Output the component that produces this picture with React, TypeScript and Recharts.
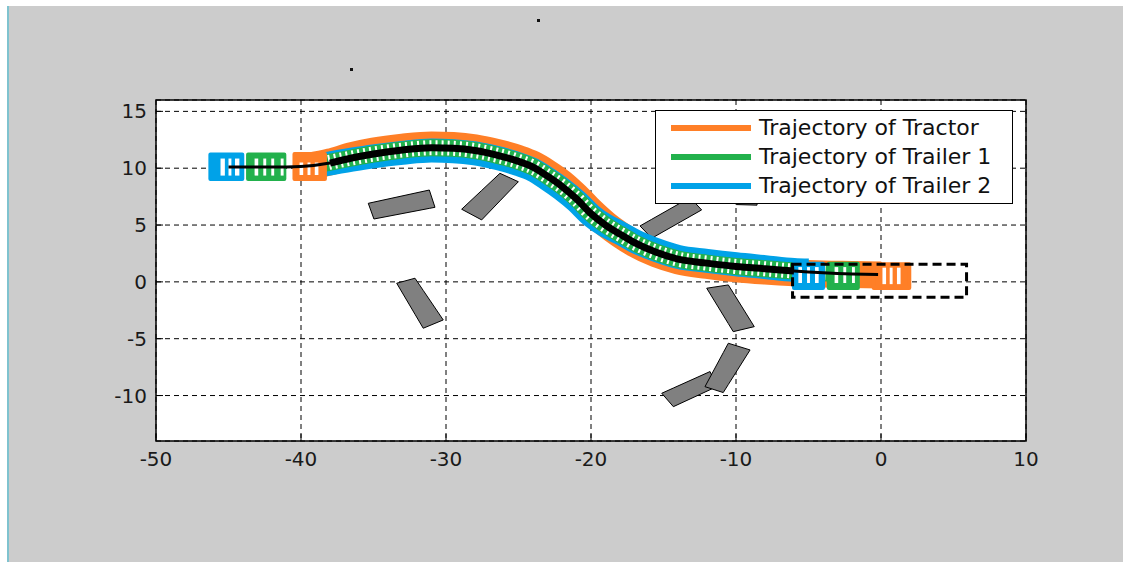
import {
  Area,
  CartesianGrid,
  ComposedChart,
  Legend,
  Line,
  ReferenceArea,
  XAxis,
  YAxis,
} from "recharts";

type Pt = [number, number];
type Box = [number, number, number, number];

const xTicks = [-50, -40, -30, -20, -10, 0, 10];
const yTicks = [-10, -5, 0, 5, 10, 15];

const legendNames = ["Trajectory of Tractor", "Trajectory of Trailer 1", "Trajectory of Trailer 2"];

// reference path of the rig (black)
const centerPath: Pt[] = [
  [-45, 10.1], [-42, 10.1], [-40, 10.15], [-38, 10.45], [-36.5, 10.9], [-35, 11.25],
  [-33, 11.6], [-31, 11.8], [-29.5, 11.75], [-28, 11.55], [-26.5, 11.15], [-25, 10.6],
  [-24, 10.1], [-23, 9.3], [-22, 8.4], [-21, 7.3], [-20, 6.0], [-19, 5.0], [-18, 4.2],
  [-17, 3.45], [-15.5, 2.6], [-14, 2.0], [-12, 1.65], [-10, 1.35], [-8, 1.15], [-6, 0.95],
  [-4, 0.8], [-2, 0.7], [-0.2, 0.65],
];

const tractorPath: Pt[] = [
  [-39.5, 10.15], [-38, 10.55], [-36.5, 11.1], [-35, 11.5], [-33, 11.85], [-31, 12.05],
  [-29.5, 12.0], [-28, 11.8], [-26.5, 11.4], [-25, 10.85], [-24, 10.35], [-23, 9.6],
  [-22, 8.7], [-21, 7.55], [-20, 6.25], [-19, 5.1], [-18, 4.15], [-17, 3.35], [-15.5, 2.45],
  [-14, 1.85], [-12, 1.45], [-10, 1.15], [-8, 0.95], [-6, 0.8], [-4, 0.7], [-2, 0.65], [0, 0.6],
];

const trailer1Path: Pt[] = [
  [-38.5, 10.4], [-36.5, 10.9], [-35, 11.25], [-33, 11.6],
  [-31, 11.8], [-29.5, 11.75], [-28, 11.55], [-26.5, 11.15], [-25, 10.6], [-24, 10.1],
  [-23, 9.3], [-22, 8.4], [-21, 7.3], [-20, 6.0], [-19, 5.0], [-18, 4.2], [-17, 3.45],
  [-15.5, 2.6], [-14, 2.0], [-12, 1.65], [-10, 1.35], [-8, 1.15], [-6, 0.95], [-4, 0.8], [-2.5, 0.75],
];

const trailer2Path: Pt[] = [
  [-38.5, 10.3], [-36.5, 10.75], [-35, 11.05],
  [-33, 11.35], [-31, 11.55], [-29.5, 11.5], [-28, 11.3], [-26.5, 10.9], [-25, 10.35],
  [-24, 9.85], [-23, 9.05], [-22, 8.15], [-21, 7.1], [-20, 5.85], [-19, 4.95], [-18, 4.3],
  [-17, 3.6], [-15.5, 2.8], [-14, 2.2], [-12, 1.85], [-10, 1.55], [-8, 1.3], [-6, 1.05], [-5, 1.0],
];

// obstacle corners
const obstacles: Pt[][] = [
  [[-35.36, 6.91], [-31.15, 8.08], [-30.76, 6.56], [-34.97, 5.53]],
  [[-28.92, 6.39], [-26.28, 9.55], [-25.01, 8.81], [-27.54, 5.45]],
  [[-33.4, -0.12], [-32.14, 0.32], [-30.19, -3.35], [-31.57, -4.08]],
  [[-16.62, 4.92], [-15.81, 3.84], [-12.37, 6.33], [-13.17, 7.42]],
  [[-10.0, 6.8], [-8.55, 6.75], [-8.5, 8.5], [-9.95, 8.55]],
  [[-12.02, -0.56], [-10.53, -0.27], [-8.74, -3.94], [-10.19, -4.38]],
  [[-15.12, -9.8], [-11.79, -7.89], [-11.33, -9.22], [-14.32, -10.98]],
  [[-10.53, -5.4], [-9.03, -5.99], [-10.88, -9.74], [-12.14, -9.22]],
];

// vehicle footprints at start and goal: trailer 2, trailer 1, tractor
const startBoxes: Box[] = [
  [-46.25, -44.05, 9.05, 11.2],
  [-43.65, -41.15, 9.05, 11.2],
  [-40.45, -38.35, 9.05, 11.25],
];
const endBoxes: Box[] = [
  [-6.0, -4.0, -0.55, 1.6],
  [-3.6, -1.6, -0.55, 1.6],
  [-0.5, 1.95, -0.55, 1.55],
];
const whiteBars: Box[] = [
  [-45.55, -45.25, 9.35, 10.85], [-45.0, -44.8, 9.35, 10.85], [-44.55, -44.25, 9.35, 10.85],
  [-43.2, -42.95, 9.35, 10.85], [-42.6, -42.4, 9.35, 10.85], [-42.05, -41.85, 9.35, 10.85], [-41.4, -41.2, 9.35, 10.85],
  [-40.1, -39.85, 9.4, 10.5], [-39.55, -39.35, 9.4, 10.5], [-39.05, -38.8, 9.4, 10.5],
  [-5.7, -5.45, -0.1, 1.3], [-5.1, -4.9, -0.1, 1.3], [-4.55, -4.3, -0.1, 1.3],
  [-3.2, -2.95, -0.1, 1.3], [-2.6, -2.4, -0.1, 1.3], [-2.0, -1.8, -0.1, 1.3],
  [0.1, 0.35, -0.2, 1.25], [0.6, 0.8, -0.2, 1.25], [1.1, 1.35, -0.2, 1.25],
];
const goalRegion: Box = [-6.1, 5.9, -1.35, 1.55];

const seriesColors = ["#ff7f27", "#22b14c", "#00a2e8"];

const rows = (pts: Pt[]) => pts.map(([x, y]) => ({ x, y }));

// turn a convex polygon into a range band (lower/upper y at each corner x)
function bandRows(corners: Pt[]) {
  const xs = corners.map((c) => c[0]).sort((a, b) => a - b);
  return xs.map((x) => {
    const ys: number[] = [];
    corners.forEach((p, i) => {
      const q = corners[(i + 1) % corners.length];
      const lo = Math.min(p[0], q[0]);
      const hi = Math.max(p[0], q[0]);
      if (x < lo - 1e-9 || x > hi + 1e-9) return;
      if (hi - lo < 1e-9) {
        ys.push(p[1], q[1]);
        return;
      }
      const t = (x - p[0]) / (q[0] - p[0]);
      ys.push(p[1] + t * (q[1] - p[1]));
    });
    return { x, band: [Math.min(...ys), Math.max(...ys)] };
  });
}

function TrajectoryLegend({ payload }: any) {
  const items = legendNames
    .map((n) => (payload ?? []).find((p: any) => p.value === n))
    .filter(Boolean);
  return (
    <div
      style={{
        width: 358,
        height: 94,
        boxSizing: "border-box",
        background: "#fff",
        border: "1px solid #000",
        padding: "2px 0 0 15px",
        fontFamily: "DejaVu Sans",
        fontSize: 22,
        color: "#111",
      }}
    >
      {items.map((item: any) => (
        <div key={item.value} style={{ display: "flex", alignItems: "center", height: 29 }}>
          <span style={{ width: 80, height: 6, background: item.color, marginRight: 8 }} />
          <span style={{ whiteSpace: "nowrap" }}>{item.value}</span>
        </div>
      ))}
    </div>
  );
}

const tickStyle = { fill: "#1a1a1a", fontSize: 20, fontFamily: "DejaVu Sans" };

export default function App() {
  const thickCenter = centerPath.filter((p) => p[0] >= -38 && p[0] <= -6);

  return (
    <div style={{ position: "relative", width: 1123, height: 562, background: "#fff", overflow: "hidden" }}>
      <style>{"body{margin:0}"}</style>
      <div
        style={{
          position: "absolute",
          left: 7,
          top: 6,
          right: 0,
          bottom: 0,
          background: "#cccccc",
          borderLeft: "2px solid #7fc3cf",
        }}
      />
      <div style={{ position: "absolute", left: 537, top: 19, width: 3, height: 3, background: "#111" }} />
      <div style={{ position: "absolute", left: 350, top: 68, width: 3, height: 3, background: "#111" }} />
      <div style={{ position: "absolute", left: 0, top: 0 }}>
        <ComposedChart width={1123} height={562} margin={{ top: 99, right: 96, bottom: 91, left: 116 }}>
          <CartesianGrid stroke="#000" strokeDasharray="5 4" fill="#fff" fillOpacity={1} />
          <XAxis
            dataKey="x"
            type="number"
            domain={[-50, 10]}
            ticks={xTicks}
            allowDataOverflow
            height={30}
            axisLine={false}
            tickSize={-7}
            tickMargin={18}
            tickLine={{ stroke: "#000" }}
            tick={tickStyle}
          />
          <YAxis
            type="number"
            domain={[-14, 16]}
            ticks={yTicks}
            allowDataOverflow
            width={40}
            axisLine={false}
            tickSize={-7}
            tickMargin={16}
            tickLine={{ stroke: "#000" }}
            tick={tickStyle}
          />
          <XAxis
            xAxisId="top"
            orientation="top"
            type="number"
            domain={[-50, 10]}
            ticks={xTicks}
            allowDataOverflow
            height={1}
            axisLine={false}
            tickSize={-7}
            tickLine={{ stroke: "#000" }}
            tick={false}
          />
          <YAxis
            yAxisId="right"
            orientation="right"
            type="number"
            domain={[-14, 16]}
            ticks={yTicks}
            allowDataOverflow
            width={1}
            axisLine={false}
            tickSize={-7}
            tickLine={{ stroke: "#000" }}
            tick={false}
          />

          {obstacles.map((o, i) => (
            <Area
              key={`obs-${i}`}
              data={bandRows(o)}
              dataKey="band"
              type="linear"
              fill="#808080"
              fillOpacity={1}
              stroke="#000"
              strokeWidth={1}
              dot={false}
              activeDot={false}
              legendType="none"
              zIndex={100}
              isAnimationActive={false}
            />
          ))}

          <Line
            data={rows(tractorPath)}
            dataKey="y"
            name={legendNames[0]}
            type="monotone"
            stroke={seriesColors[0]}
            strokeWidth={27}
            dot={false}
            activeDot={false}
            zIndex={200}
            isAnimationActive={false}
          />
          <Line
            data={rows(trailer2Path)}
            dataKey="y"
            name={legendNames[2]}
            type="monotone"
            stroke={seriesColors[2]}
            strokeWidth={24}
            dot={false}
            activeDot={false}
            zIndex={210}
            isAnimationActive={false}
          />
          <Line
            data={rows(trailer1Path)}
            dataKey="y"
            name={legendNames[1]}
            type="monotone"
            stroke={seriesColors[1]}
            strokeWidth={17}
            dot={false}
            activeDot={false}
            zIndex={220}
            isAnimationActive={false}
          />
          <Line
            data={rows(trailer1Path)}
            dataKey="y"
            type="monotone"
            stroke="#fff"
            strokeWidth={15}
            strokeDasharray="2 4"
            dot={false}
            activeDot={false}
            legendType="none"
            zIndex={230}
            isAnimationActive={false}
          />

          {[...startBoxes, ...endBoxes].map((b, i) => (
            <ReferenceArea
              key={`veh-${i}`}
              x1={b[0]}
              x2={b[1]}
              y1={b[2]}
              y2={b[3]}
              fill={seriesColors[2 - (i % 3)]}
              fillOpacity={1}
              stroke={seriesColors[2 - (i % 3)]}
              strokeWidth={4}
              strokeLinejoin="round"
              zIndex={300}
              ifOverflow="visible"
            />
          ))}
          {whiteBars.map((b, i) => (
            <ReferenceArea
              key={`bar-${i}`}
              x1={b[0]}
              x2={b[1]}
              y1={b[2]}
              y2={b[3]}
              fill="#fff"
              fillOpacity={1}
              stroke="none"
              zIndex={310}
              ifOverflow="visible"
            />
          ))}

          <Line
            data={rows(centerPath)}
            dataKey="y"
            type="monotone"
            stroke="#000"
            strokeWidth={3}
            dot={false}
            activeDot={false}
            legendType="none"
            zIndex={400}
            isAnimationActive={false}
          />
          <Line
            data={rows(thickCenter)}
            dataKey="y"
            type="monotone"
            stroke="#000"
            strokeWidth={7}
            dot={false}
            activeDot={false}
            legendType="none"
            zIndex={410}
            isAnimationActive={false}
          />

          <ReferenceArea
            x1={goalRegion[0]}
            x2={goalRegion[1]}
            y1={goalRegion[2]}
            y2={goalRegion[3]}
            fill="none"
            stroke="#000"
            strokeWidth={3}
            strokeDasharray="9 5"
            zIndex={500}
            ifOverflow="visible"
          />
          <ReferenceArea
            x1={-50}
            x2={10}
            y1={-14}
            y2={16}
            fill="none"
            stroke="#000"
            strokeWidth={1.5}
            zIndex={510}
            ifOverflow="visible"
          />

          <Legend
            layout="horizontal"
            verticalAlign="middle"
            align="center"
            wrapperStyle={{ left: 655, top: 110, width: 358, height: 94 }}
            content={(props: any) => <TrajectoryLegend {...props} />}
          />
        </ComposedChart>
      </div>
    </div>
  );
}
